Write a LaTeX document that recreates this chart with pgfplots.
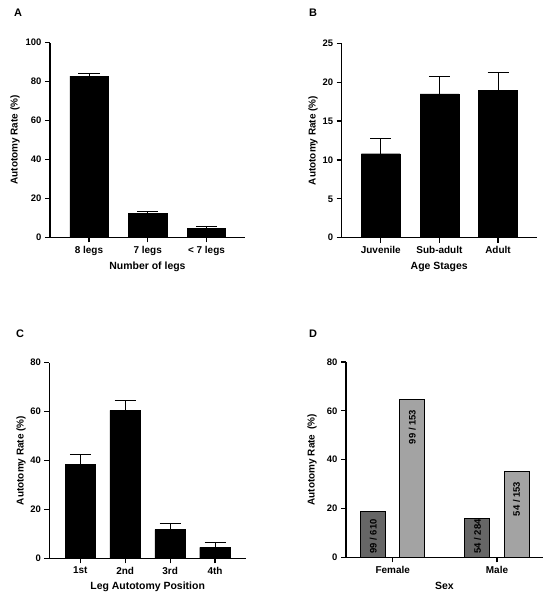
\documentclass[border=0pt]{standalone}
\usepackage{pgfplots}
\pgfplotsset{compat=1.18}
\usepackage{fontspec}
\setmainfont{Liberation Sans}
\definecolor{darkbar}{HTML}{666666}
\definecolor{lightbar}{HTML}{A3A3A3}
\newcommand\ytf{\fontsize{9.5}{11}\selectfont\bfseries}
\newcommand\xtf{\fontsize{10}{12}\selectfont\bfseries}
\newcommand\ylf{\fontsize{10}{12}\selectfont\bfseries}
\newcommand\xlf{\fontsize{10.5}{12}\selectfont\bfseries}
\newcommand\barf{\fontsize{9.5}{11}\selectfont\bfseries}
\pgfplotsset{panel/.style={
  scale only axis,
  axis x line*=bottom, axis y line*=left,
  axis line style={line width=1.2bp, -},
  tick style={line width=1.2bp, black},
  major tick length=5bp,
  tick align=outside,
  ymin=0,
  enlargelimits=false,
  clip=false,
  /pgf/number format/assume math mode=true,
  yticklabel style={anchor=east, font=\ytf},
  xticklabel style={anchor=north, font=\xtf},
  ylabel style={font=\ylf},
  xlabel style={font=\xlf},
  },
  errbar/.style={error bars/.cd, y dir=plus, y explicit,
    error bar style={line width=1bp, black},
    error mark options={rotate=90, line width=1bp, mark size=10.5bp, black}},
}
\begin{document}
\begin{tikzpicture}
\path[use as bounding box] (0,0) rectangle (550bp,599bp);
% A
\begin{axis}[panel, at={(50bp,361.7bp)}, anchor=south west,
  width=195bp, height=194.6bp,
  xmin=-0.664, xmax=2.656, ymax=100, ytick={0,20,40,60,80,100},
  xtick={0,1,2}, xticklabels={8 legs,7 legs,{< 7 legs}},
  ylabel={Autotomy Rate (\%)}, xlabel={Number of legs},
  ylabel style={at={(axis description cs:-0.179,0.5)}, anchor=center},
  xlabel style={at={(axis description cs:0.5,-0.153)}, anchor=center}]
\addplot[ybar, bar width=0.65, bar shift=0pt, fill=black, draw=black, errbar]
  coordinates {(0,82.8) +- (0,1.5) (1,12.2) +- (0,1.3) (2,4.6) +- (0,1.0)};
\end{axis}
% B
\begin{axis}[panel, at={(341.7bp,361.3bp)}, anchor=south west,
  width=195bp, height=194.4bp,
  xmin=-0.667, xmax=2.66, ymax=25, ytick={0,5,10,15,20,25},
  xtick={0,1,2}, xticklabels={Juvenile,Sub-adult,Adult},
  ylabel={Autotomy Rate (\%)}, xlabel={Age Stages},
  ylabel style={at={(axis description cs:-0.147,0.5)}, anchor=center},
  xlabel style={at={(axis description cs:0.5,-0.149)}, anchor=center}]
\addplot[ybar, bar width=0.66, bar shift=0pt, fill=black, draw=black, errbar]
  coordinates {(0,10.8) +- (0,1.9) (1,18.5) +- (0,2.2) (2,18.95) +- (0,2.35)};
\end{axis}
% C
\begin{axis}[panel, at={(49.3bp,40.7bp)}, anchor=south west,
  width=196.7bp, height=195.6bp,
  xmin=-0.69, xmax=3.69, ymax=80, ytick={0,20,40,60,80},
  xtick={0,1,2,3}, xticklabels={1st,2nd,3rd,4th},
  ylabel={Autotomy Rate (\%)}, xlabel={Leg Autotomy Position},
  ylabel style={at={(axis description cs:-0.144,0.5)}, anchor=center},
  xlabel style={at={(axis description cs:0.5,-0.145)}, anchor=center}]
\addplot[ybar, bar width=0.68, bar shift=0pt, fill=black, draw=black, errbar]
  coordinates {(0,38.4) +- (0,4.1) (1,60.5) +- (0,4.1) (2,11.7) +- (0,2.6) (3,4.5) +- (0,1.8)};
\end{axis}
% D
\begin{axis}[panel, at={(346bp,41.7bp)}, anchor=south west,
  width=196.7bp, height=195.3bp,
  xmin=-0.448, xmax=1.438, ymax=80, ytick={0,20,40,60,80},
  xtick={0,1}, xticklabels={Female,Male},
  ylabel={Autotomy Rate\enspace(\%)}, xlabel={Sex},
  ylabel style={at={(axis description cs:-0.173,0.5)}, anchor=center},
  xlabel style={at={(axis description cs:0.5,-0.147)}, anchor=center}]
\addplot[ybar, bar width=0.24, bar shift=0pt, fill=darkbar, draw=black, line width=1bp]
  coordinates {(-0.1875,18.8) (0.8125,16.0)};
\addplot[ybar, bar width=0.24, bar shift=0pt, fill=lightbar, draw=black, line width=1bp]
  coordinates {(0.1875,64.6) (1.1875,35.1)};
\addplot[draw=none, mark=none, nodes near coords, point meta=explicit symbolic,
  nodes near coords style={rotate=90, anchor=east, inner xsep=10bp, inner ysep=0pt, font=\barf, text=black}]
  coordinates {(0.1875,64.6) [99 / 153] (1.1875,35.1) [54 / 153]};
\addplot[draw=none, mark=none, nodes near coords, point meta=explicit symbolic,
  nodes near coords style={rotate=90, anchor=west, inner xsep=3.5bp, inner ysep=0pt, font=\barf, text=black}]
  coordinates {(-0.1875,0) [99 / 610] (0.8125,0) [54 / 284]};
\end{axis}
\node[font=\fontsize{11}{13}\selectfont\bfseries] at (18bp,586bp) {A};
\node[font=\fontsize{11}{13}\selectfont\bfseries] at (313bp,586bp) {B};
\node[font=\fontsize{11}{13}\selectfont\bfseries] at (20bp,265bp) {C};
\node[font=\fontsize{11}{13}\selectfont\bfseries] at (313bp,265.7bp) {D};
\end{tikzpicture}
\end{document}
